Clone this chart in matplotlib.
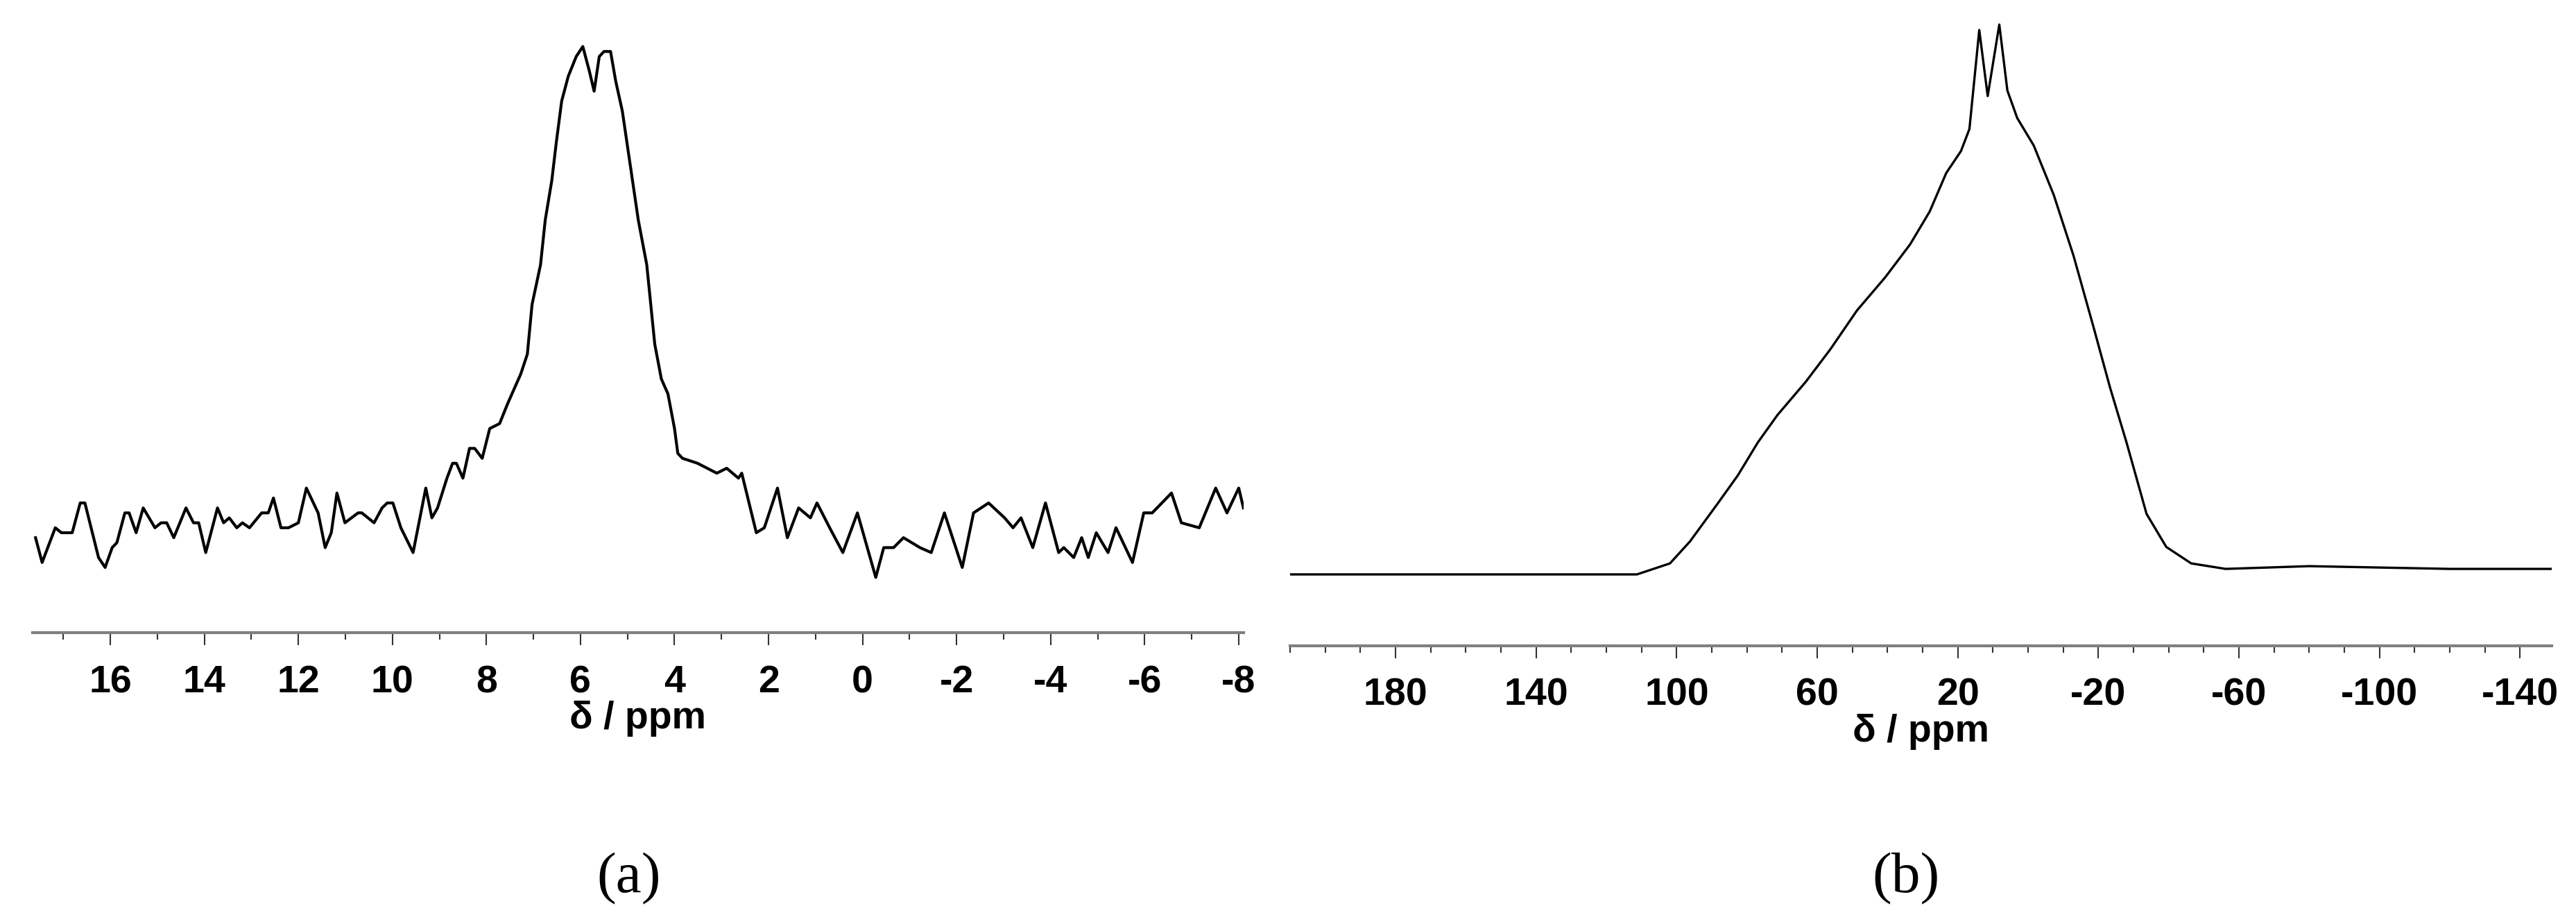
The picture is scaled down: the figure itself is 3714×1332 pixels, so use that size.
import matplotlib.pyplot as plt
from matplotlib.ticker import MultipleLocator

plt.rcParams['axes.unicode_minus'] = False

# (a) espectro estrecho
shift_a = [17.59, 17.45, 17.17, 17.04, 16.81, 16.64, 16.54, 16.25, 16.11, 15.96, 15.86, 15.69, 15.60,
           15.45, 15.30, 15.05, 14.92, 14.80, 14.65, 14.39, 14.23, 14.12, 13.97, 13.72, 13.59, 13.47,
           13.31, 13.19, 13.04, 12.78, 12.64, 12.53, 12.37, 12.21, 12.00, 11.83, 11.58, 11.43, 11.30,
           11.18, 11.01, 10.73, 10.65, 10.39, 10.22, 10.11, 9.99, 9.82, 9.56, 9.29, 9.16, 9.04, 8.84,
           8.72, 8.64, 8.50, 8.36, 8.25, 8.09, 7.93, 7.72, 7.55, 7.27, 7.13, 7.03, 6.85, 6.75, 6.61,
           6.51, 6.40, 6.26, 6.09, 5.95, 5.81, 5.71, 5.60, 5.50, 5.36, 5.25, 5.11, 4.94, 4.77, 4.59,
           4.42, 4.28, 4.14, 4.00, 3.93, 3.83, 3.51, 3.10, 2.89, 2.64, 2.57, 2.26, 2.09, 1.81, 1.60,
           1.36, 1.11, 0.97, 0.70, 0.42, 0.11, -0.28, -0.45, -0.66, -0.87, -1.22, -1.46, -1.74, -2.12,
           -2.36, -2.68, -3.02, -3.20, -3.37, -3.62, -3.89, -4.17, -4.28, -4.49, -4.66, -4.80, -4.97,
           -5.22, -5.39, -5.74, -5.98, -6.16, -6.57, -6.78, -7.16, -7.51, -7.75, -8.00, -8.10]
inten_a = [0.01, -0.04, 0.03, 0.02, 0.02, 0.08, 0.08, -0.03, -0.05, -0.01, 0.00, 0.06, 0.06,
           0.02, 0.07, 0.03, 0.04, 0.04, 0.01, 0.07, 0.04, 0.04, -0.02, 0.07, 0.04, 0.05,
           0.03, 0.04, 0.03, 0.06, 0.06, 0.09, 0.03, 0.03, 0.04, 0.11, 0.06, -0.01, 0.02,
           0.10, 0.04, 0.06, 0.06, 0.04, 0.07, 0.08, 0.08, 0.03, -0.02, 0.11, 0.05, 0.07, 0.13,
           0.16, 0.16, 0.13, 0.19, 0.19, 0.17, 0.23, 0.24, 0.28, 0.34, 0.38, 0.48, 0.56, 0.65, 0.73,
           0.81, 0.89, 0.94, 0.98, 1.00, 0.95, 0.91, 0.98, 0.99, 0.99, 0.93, 0.87, 0.76, 0.65, 0.56,
           0.40, 0.33, 0.30, 0.23, 0.18, 0.17, 0.16, 0.14, 0.15, 0.13, 0.14, 0.02, 0.03, 0.11, 0.01,
           0.07, 0.05, 0.08, 0.03, -0.02, 0.06, -0.07, -0.01, -0.01, 0.01, -0.01, -0.02, 0.06, -0.05,
           0.06, 0.08, 0.05, 0.03, 0.05, -0.01, 0.08, -0.02, -0.01, -0.03, 0.01, -0.03, 0.02,
           -0.02, 0.03, -0.04, 0.06, 0.06, 0.10, 0.04, 0.03, 0.11, 0.06, 0.11, 0.07]

# (b) espectro ancho
shift_b = [210.1, 179.5, 156.0, 132.5, 122.6, 111.3, 101.9, 96.2, 88.2, 82.6, 76.9, 71.3, 63.3,
           56.2, 48.7, 40.7, 33.6, 28.0, 23.3, 19.1, 16.7, 13.9, 11.5, 8.2, 5.9, 3.1, -1.6, -7.3,
           -12.9, -18.6, -23.3, -28.0, -33.7, -39.3, -46.4, -56.2, -80.0, -120.0, -149.0]
inten_b = [0.00, 0.00, 0.00, 0.00, 0.00, 0.00, 0.02, 0.06, 0.13, 0.18, 0.24, 0.29, 0.35,
           0.41, 0.48, 0.54, 0.60, 0.66, 0.73, 0.77, 0.81, 0.99, 0.87, 1.00, 0.88, 0.83, 0.78, 0.69,
           0.58, 0.45, 0.34, 0.24, 0.11, 0.05, 0.02, 0.01, 0.015, 0.01, 0.01]

fuente = {'family': 'Liberation Sans', 'weight': 'bold', 'size': 40}

fig = plt.figure(figsize=(37.14, 13.32), dpi=100)
ax_a = fig.add_axes([0.0127, 0.315, 0.470, 0.640])
ax_b = fig.add_axes([0.5008, 0.301, 0.4898, 0.676])

ax_a.plot(shift_a, inten_a, color='black', linewidth=3)
ax_a.set_xlim(17.65, -8.1)
ax_a.set_ylim(-0.182, 1.01)
ax_a.xaxis.set_major_locator(MultipleLocator(2))
ax_a.xaxis.set_minor_locator(MultipleLocator(1))

ax_b.plot(shift_b, inten_b, color='black', linewidth=2.4)
ax_b.set_xlim(210, -149)
ax_b.set_ylim(-0.13, 1.006)
ax_b.set_xticks([180, 140, 100, 60, 20, -20, -60, -100, -140])
ax_b.xaxis.set_minor_locator(MultipleLocator(10))

for ax in (ax_a, ax_b):
    for s in ('top', 'left', 'right'):
        ax.spines[s].set_visible(False)
    ax.spines['bottom'].set_color('#808080')
    ax.spines['bottom'].set_linewidth(3)
    ax.set_yticks([])
    ax.tick_params(axis='x', which='major', length=13, width=1.5, pad=20, color='#333333')
    ax.tick_params(axis='x', which='minor', length=7, width=1.5, color='#333333')
    for lab in ax.get_xticklabels():
        lab.set_fontproperties(fuente)
    ax.set_xlabel('δ / ppm', fontdict=fuente, labelpad=0)

fig.text(0.244, 0.049, '(a)', family='Liberation Serif', fontsize=60, ha='center', va='center')
fig.text(0.740, 0.049, '(b)', family='Liberation Serif', fontsize=60, ha='center', va='center')

plt.savefig('out.png', dpi=100)
plt.close()
